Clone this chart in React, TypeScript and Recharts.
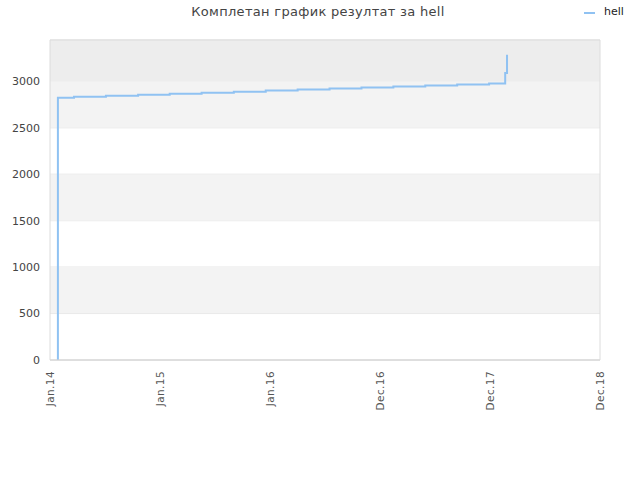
import { LineChart, Line, XAxis, YAxis, CartesianGrid, ReferenceArea } from 'recharts';

const pointDates = [
  '2014-02-05', '2014-02-05', '2014-03-30', '2014-07-13', '2014-10-27',
  '2015-02-08', '2015-05-24', '2015-09-07', '2015-12-21', '2016-04-04',
  '2016-07-18', '2016-10-31', '2017-02-13', '2017-05-29', '2017-09-11',
  '2017-12-25', '2018-02-16', '2018-02-22',
];
const hellValues = [
  0, 2823, 2834, 2845, 2856, 2867, 2878, 2889, 2900, 2911,
  2922, 2933, 2944, 2955, 2966, 2977, 3090, 3287,
];

const tickDates = ['2014-01-10', '2015-01-07', '2016-01-04', '2016-12-31', '2017-12-28', '2018-12-25'];
const tickLabels = ['Jan.14', 'Jan.15', 'Jan.16', 'Dec.16', 'Dec.17', 'Dec.18'];
const yTicks = [0, 500, 1000, 1500, 2000, 2500, 3000];
const yMax = 3445;

// alternating plot bands
const bands = [
  { from: 500, to: 1000, fill: '#f3f3f3' },
  { from: 1500, to: 2000, fill: '#f3f3f3' },
  { from: 2500, to: 3000, fill: '#f3f3f3' },
  { from: 3000, to: yMax, fill: '#ededed' },
];

const toTime = (d: string) => Date.parse(d + 'T00:00:00Z');

const data = pointDates.map((d, i) => ({ t: toTime(d), hell: hellValues[i] }));
const xTicks = tickDates.map(toTime);
const xMin = xTicks[0];
const xMax = xTicks[xTicks.length - 1];

const FONT = '"DejaVu Sans", sans-serif';

function XTick({ x, y, payload }: any) {
  const idx = xTicks.indexOf(payload.value);
  return (
    <g transform={`translate(${x},${y + 3})`}>
      <text
        x={0}
        y={0}
        dy={4}
        textAnchor="end"
        transform="rotate(-90)"
        fontSize={10.5}
        letterSpacing={0.4}
        fontFamily={FONT}
        fill="#555"
      >
        {tickLabels[idx]}
      </text>
    </g>
  );
}

export default function App() {
  return (
    <div style={{ position: 'absolute', left: 0, top: 0, width: 640, height: 480, background: '#fff', fontFamily: FONT }}>
      <div
        style={{
          position: 'absolute',
          top: 4,
          left: 0,
          width: 636,
          textAlign: 'center',
          fontSize: 13,
          letterSpacing: 0.3,
          color: '#444',
        }}
      >
        Комплетан график резултат за hell
      </div>
      <div style={{ position: 'absolute', top: 5, left: 584, fontSize: 11, color: '#222', display: 'flex', alignItems: 'center' }}>
        <svg width={12} height={12} style={{ marginRight: 8 }}>
          <line x1={0} y1={7} x2={11} y2={7} stroke="#90c2f2" strokeWidth={2} />
        </svg>
        <span>hell</span>
      </div>
      <LineChart
        width={640}
        height={480}
        data={data}
        margin={{ top: 40, right: 40, bottom: 0, left: 0 }}
      >
        {bands.map((b, i) => (
          <ReferenceArea key={i} y1={b.from} y2={b.to} x1={xMin} x2={xMax} fill={b.fill} fillOpacity={1} stroke="none" />
        ))}
        <CartesianGrid vertical={false} stroke="#e0e0e0" />
        <ReferenceArea x1={xMin} x2={xMax} y1={0} y2={yMax} fill="none" stroke="#dcdcdc" strokeOpacity={1} />
        <XAxis
          dataKey="t"
          type="number"
          domain={[xMin, xMax]}
          ticks={xTicks}
          tick={<XTick />}
          tickLine={false}
          axisLine={{ stroke: '#d8d8d8' }}
          height={120}
          interval={0}
        />
        <YAxis
          type="number"
          domain={[0, yMax]}
          ticks={yTicks}
          tickLine={false}
          axisLine={false}
          width={50}
          tickMargin={4}
          tick={{ fontSize: 11, fontFamily: FONT, fill: '#444' }}
        />
        <Line
          type="stepAfter"
          dataKey="hell"
          stroke="#90c2f2"
          strokeWidth={2}
          dot={false}
          isAnimationActive={false}
        />
      </LineChart>
    </div>
  );
}
